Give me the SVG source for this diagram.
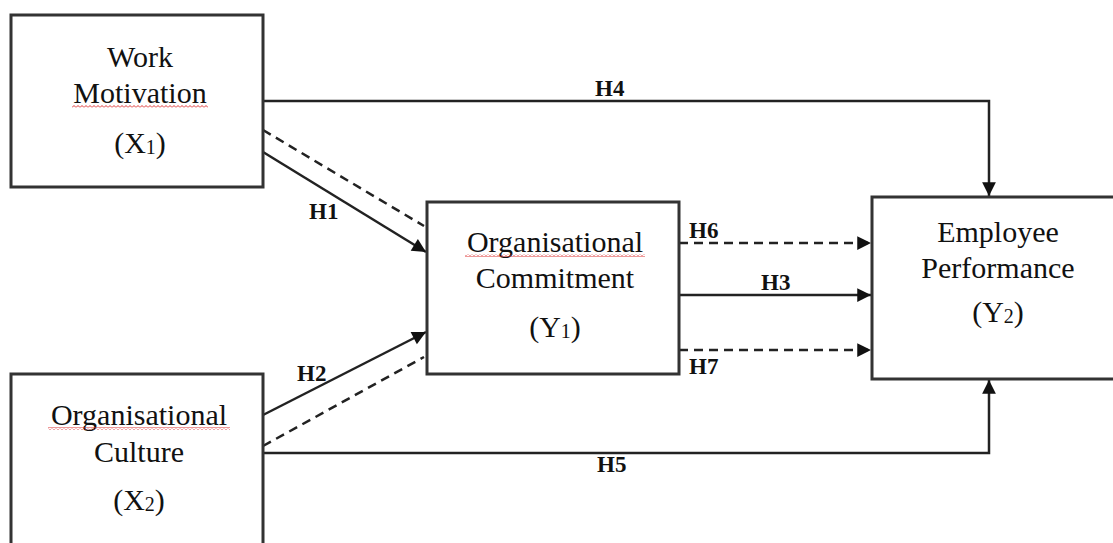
<svg xmlns="http://www.w3.org/2000/svg" width="1113" height="543" viewBox="0 0 1113 543">
  <style>
    .box { fill: #fff; stroke: #333; stroke-width: 3; }
    .lbl { font-family: "Liberation Serif", "Times New Roman", serif; font-size: 30px; fill: #111; text-anchor: middle; }
    .sub { font-size: 20px; }
    .hyp { font-family: "Liberation Serif", "Times New Roman", serif; font-size: 23px; font-weight: bold; fill: #111; }
    .solid { fill: none; stroke: #222; stroke-width: 2.5; }
    .dash { fill: none; stroke: #222; stroke-width: 2.5; stroke-dasharray: 9 6; }
    .squig { fill: url(#wave); }
  </style>
  <defs>
    <marker id="arrow" viewBox="0 0 10 10" refX="10" refY="5" markerWidth="6.5" markerHeight="5.5" markerUnits="strokeWidth" orient="auto">
      <path d="M0,0 L10,5 L0,10 Z" fill="#111"/>
    </marker>
    <!-- red spell-check squiggle -->
    <pattern id="wave" width="4" height="3" patternUnits="userSpaceOnUse">
      <path d="M0,2.5 L2,0.5 L4,2.5" fill="none" stroke="#d33" stroke-width="1"/>
    </pattern>
  </defs>
  <rect width="1113" height="543" fill="#fff"/>

  <g id="connectors">
    <!-- H4: X1 to Y2 over the top -->
    <path class="solid" d="M263,101 H989 V196" marker-end="url(#arrow)"/>
    <!-- H5: X2 to Y2 along the bottom -->
    <path class="solid" d="M263,453 H989 V380" marker-end="url(#arrow)"/>
    <!-- H1 and H2 into Y1 -->
    <path class="solid" d="M263,152 L426,252" marker-end="url(#arrow)"/>
    <path class="dash" d="M263,130 L424,226"/>
    <path class="solid" d="M263,415 L426,332" marker-end="url(#arrow)"/>
    <path class="dash" d="M263,446 L424,357"/>
    <!-- H6, H3, H7 from Y1 to Y2 -->
    <path class="dash" d="M679,243 H871" marker-end="url(#arrow)"/>
    <path class="solid" d="M679,295 H871" marker-end="url(#arrow)"/>
    <path class="dash" d="M679,350 H871" marker-end="url(#arrow)"/>
  </g>

  <g id="labels">
    <text class="hyp" x="595" y="96">H4</text>
    <text class="hyp" x="597" y="472">H5</text>
    <text class="hyp" x="309" y="219">H1</text>
    <text class="hyp" x="297" y="381">H2</text>
    <text class="hyp" x="689" y="238">H6</text>
    <text class="hyp" x="761" y="290">H3</text>
    <text class="hyp" x="689" y="374">H7</text>
  </g>

  <g id="x1">
    <rect class="box" x="11" y="15" width="252" height="172"/>
    <text class="lbl" x="140" y="67">Work</text>
    <text class="lbl" x="140" y="103">Motivation</text>
    <rect class="squig" x="72" y="105" width="136" height="3"/>
    <text class="lbl" x="140" y="153">(X<tspan class="sub" dy="1">1</tspan><tspan dy="-1">)</tspan></text>
  </g>

  <g id="x2">
    <rect class="box" x="11" y="374" width="252" height="185"/>
    <text class="lbl" x="139" y="425">Organisational</text>
    <rect class="squig" x="48" y="427" width="182" height="3"/>
    <text class="lbl" x="139" y="462">Culture</text>
    <text class="lbl" x="139" y="510">(X<tspan class="sub" dy="1">2</tspan><tspan dy="-1">)</tspan></text>
  </g>

  <g id="y1">
    <rect class="box" x="427" y="202" width="252" height="172"/>
    <text class="lbl" x="555" y="252">Organisational</text>
    <rect class="squig" x="465" y="254" width="180" height="3"/>
    <text class="lbl" x="555" y="288">Commitment</text>
    <text class="lbl" x="555" y="337">(Y<tspan class="sub" dy="1">1</tspan><tspan dy="-1">)</tspan></text>
  </g>

  <g id="y2">
    <rect class="box" x="872" y="197" width="260" height="182"/>
    <text class="lbl" x="998" y="242">Employee</text>
    <text class="lbl" x="998" y="278">Performance</text>
    <text class="lbl" x="998" y="322">(Y<tspan class="sub" dy="1">2</tspan><tspan dy="-1">)</tspan></text>
  </g>
</svg>
